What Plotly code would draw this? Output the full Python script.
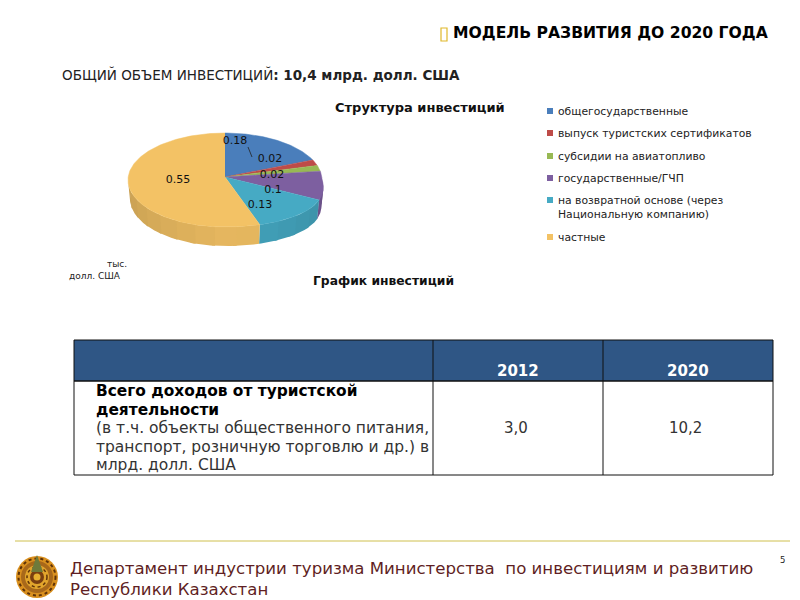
import math
import plotly.graph_objects as go

# ---- data ----
categories = ["общегосударственные", "выпуск туристских сертификатов", "субсидии на авиатопливо",
              "государственные/ГЧП", "на возвратной основе (через<br>Национальную компанию)", "частные"]
shares = [0.18, 0.02, 0.02, 0.1, 0.13, 0.55]
table_years = ["2012", "2020"]
table_values = ["3,0", "10,2"]

# ---- styles ----
top_colors = ["#4A7EBB", "#BE4B48", "#98B954", "#7D5FA0", "#46AAC4", "#F3C265"]
FONT = "DejaVu Sans"
CX, CY, RX, RY = 225, 180, 97, 47
APEX_Y = 177
DEPTH = 19
FRONT_BULGE = 0.17
label_xy = [(235, 141), (270, 159), (272, 175), (273, 190), (260, 205), (178, 180)]
legend_y = [111, 133, 156, 178, 207, 237]
legend_swatch_y = [111, 133, 156, 178, 200, 237]

fig = go.Figure()

def rim(angle_deg, dy=0.0, shrink=0.0):
    a = math.radians(angle_deg)
    k = 1 + FRONT_BULGE * max(0.0, -math.cos(a)) if angle_deg < 180 else 1
    return CX + (RX - shrink) * k * math.sin(a), CY + dy - RY * math.cos(a)

def arc(a0, a1, dy=0.0, shrink=0.0):
    n = max(2, int(abs(a1 - a0)) + 1)
    return [rim(a0 + (a1 - a0) * i / (n - 1), dy, shrink) for i in range(n)]

def shade(hex_color, f):
    r, g, b = (int(hex_color[i:i + 2], 16) for i in (1, 3, 5))
    return "#%02X%02X%02X" % (int(r * f), int(g * f), int(b * f))

# slice angular bounds from the shares
total = sum(shares)
bounds = []
acc = 0.0
for v in shares:
    bounds.append((acc / total * 360, (acc + v) / total * 360))
    acc += v

def add_poly(points, color, width=0.5):
    fig.add_trace(go.Scatter(x=[p[0] for p in points], y=[p[1] for p in points], mode="lines",
                             fill="toself", fillcolor=color, line=dict(color=color, width=width),
                             hoverinfo="skip", showlegend=False))

# walls (only the front half of the rim), in short overlapping strips with a soft shading
STRIP = 12
for (a0, a1), col in zip(bounds, top_colors):
    s, e = max(a0, 90), min(a1, 270)
    a = s
    while a < e:
        b = min(a + STRIP, e)
        mid = (a + b) / 2
        f = 0.95 - 0.13 * abs(mid - 175) / 95
        add_poly(arc(a, min(b + 2, e)) + arc(min(b + 2, e), a, DEPTH, 2), shade(col, f), 0)
        a = b
# top faces
for (a0, a1), col in zip(bounds, top_colors):
    add_poly([(CX, APEX_Y)] + arc(a0, a1), col)

# data labels
fig.add_trace(go.Scatter(x=[p[0] for p in label_xy], y=[p[1] for p in label_xy], mode="text",
                         text=[str(v) for v in shares], textposition="middle center",
                         textfont=dict(family=FONT, size=11, color="#111"),
                         hoverinfo="skip", showlegend=False))
# leader line
fig.add_shape(type="line", x0=248, y0=147, x1=252, y1=157, line=dict(color="#222", width=0.8))

# legend swatches
fig.add_trace(go.Scatter(x=[550] * len(categories), y=legend_swatch_y, mode="markers",
                         marker=dict(symbol="square", size=6, color=top_colors),
                         hoverinfo="skip", showlegend=False))

def text(x, y, s, size, color="#000", anchor="left", bold=False, family=FONT, align="left"):
    fig.add_annotation(x=x, y=y, xref="x", yref="y", text=f"<b>{s}</b>" if bold else s, showarrow=False,
                       xanchor=anchor, yanchor="middle", align=align,
                       font=dict(family=family, size=size, color=color), borderpad=0)

for yy, c in zip(legend_y, categories):
    text(557, yy, c, 10.8, "#222")

# headings
text(452, 33, "МОДЕЛЬ РАЗВИТИЯ ДО 2020 ГОДА", 15.6, "#000", bold=True)
fig.add_shape(type="rect", x0=441, y0=28, x1=447, y1=41, line=dict(color="#E0B82B", width=1.2))
text(61, 74, "ОБЩИЙ ОБЪЕМ ИНВЕСТИЦИЙ<b>: 10,4 млрд. долл. США</b>", 13.5, "#222")
text(420, 107, "Структура инвестиций", 13, "#111", anchor="center", bold=True)
text(383, 281, "График инвестиций", 12.3, "#111", anchor="center", bold=True)
text(128, 264, "тыс.", 9, "#222", anchor="right")
text(122, 276, "долл. США", 9, "#222", anchor="right")

# table
T_L, T_D1, T_D2, T_R = 74, 433, 603, 773
T_T, T_H, T_B = 340, 381, 475
fig.add_shape(type="rect", x0=T_L, x1=T_R, y0=T_T, y1=T_H, fillcolor="#2F5685",
              line=dict(color="#111", width=1))
fig.add_shape(type="rect", x0=T_L, x1=T_R, y0=T_H, y1=T_B, fillcolor="rgba(0,0,0,0)",
              line=dict(color="#111", width=1))
for xd in (T_D1, T_D2):
    fig.add_shape(type="line", x0=xd, x1=xd, y0=T_T, y1=T_B, line=dict(color="#111", width=1))
for (x0, x1), yr, val in zip([(T_D1, T_D2), (T_D2, T_R)], table_years, table_values):
    text((x0 + x1) / 2, 371, yr, 15, "#fff", anchor="center", bold=True)
    text((x0 + x1) / 2 - 2.5, 428, val, 15, "#333", anchor="center")
for yy, s, b in [(391, "Всего доходов от туристской", True), (410, "деятельности", True),
                 (428, "(в т.ч. объекты общественного питания,", False),
                 (447, "транспорт, розничную торговлю и др.) в", False),
                 (465, "млрд. долл. США", False)]:
    text(95, yy, s, 15.4 if b else 15.5, "#000" if b else "#333", bold=b)

# footer
fig.add_shape(type="line", x0=15, x1=790, y0=541, y1=541, line=dict(color="#CFC04F", width=1))
text(69, 568, "Департамент индустрии туризма Министерства  по инвестициям и развитию", 16.6, "#5F1F24")
text(69, 589, "Республики Казахстан", 16.6, "#5F1F24")
text(782, 560, "5", 8.5, "#222", anchor="center")

# emblem
for r, col in [(21, "#D9901F"), (16, "#A8681A"), (12, "#E2A52C"), (7, "#7A3F10"), (3.5, "#E6B030")]:
    fig.add_shape(type="circle", x0=37 - r, x1=37 + r, y0=577 - r, y1=577 + r,
                  fillcolor=col, line=dict(width=0))
for r, w in [(18.5, 2), (10, 1.5)]:
    fig.add_shape(type="circle", x0=37 - r, x1=37 + r, y0=577 - r, y1=577 + r,
                  line=dict(color="#5E3208", width=w, dash="dot"))
fig.add_shape(type="path", path="M 37 555 L 43 572 L 31 572 Z", fillcolor="#6E7A3A", line=dict(width=0))

fig.update_layout(
    width=800, height=600, margin=dict(l=0, r=0, t=0, b=0), autosize=False,
    plot_bgcolor="#fff", paper_bgcolor="#fff",
    xaxis=dict(range=[0, 800], visible=False, fixedrange=True),
    yaxis=dict(range=[600, 0], visible=False, fixedrange=True),
)
fig.write_html("out.html", config={"displayModeBar": False},
               post_script="document.body.style.margin='0';document.documentElement.style.overflow='hidden';")
